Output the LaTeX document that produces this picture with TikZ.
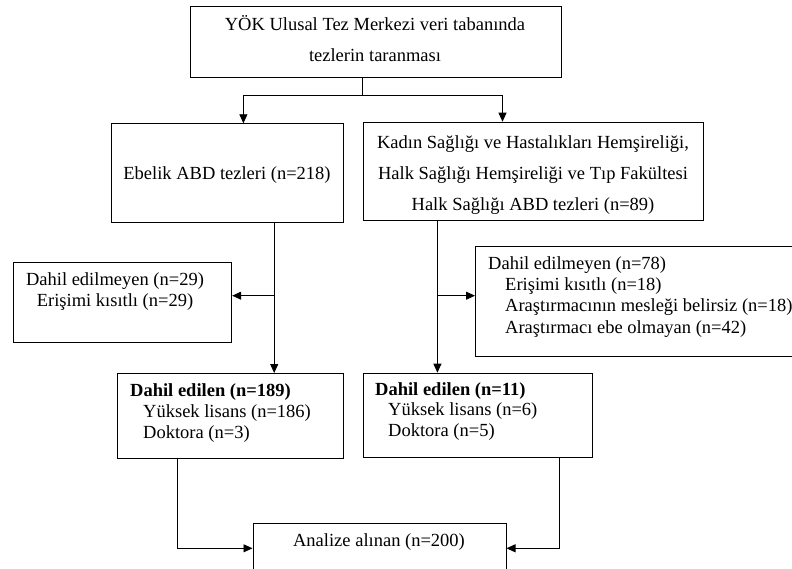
\documentclass[tikz,border=0pt]{standalone}
\usepackage{fontspec}
\setmainfont{Liberation Serif}
\usetikzlibrary{arrows.meta}
\begin{document}
\begin{tikzpicture}[x=1pt,y=-1pt,
  box/.style={draw, line width=0.9pt, inner sep=0pt, anchor=north west},
  txt/.style={inner sep=0pt, font=\fontsize{18.5}{22}\selectfont},
  conn/.style={line width=0.9pt},
  arr/.style={conn,-{Triangle[length=9pt,width=8pt]}}]
\useasboundingbox (0,0) rectangle (792,569);
% boxes
\node[box, minimum width=370.6pt, minimum height=71.3pt] (T) at (190,6) {};
\node[box, minimum width=232.4pt, minimum height=98.4pt] (E) at (111,123.3) {};
\node[box, minimum width=340.4pt, minimum height=98.3pt] (K) at (362.6,121.7) {};
\node[box, minimum width=218.7pt, minimum height=80.6pt] (X1) at (12.6,261.7) {};
\node[box, minimum width=330pt, minimum height=110pt] (X2) at (475,246) {};
\node[box, minimum width=226.4pt, minimum height=85pt] (D1) at (117,373) {};
\node[box, minimum width=229.8pt, minimum height=84.6pt] (D2) at (362.6,372.7) {};
\node[box, minimum width=253.1pt, minimum height=60pt] (A) at (252.5,523.3) {};
% texts
\node[txt, anchor=base] (t1) at (375,30.7) {YÖK Ulusal Tez Merkezi veri tabanında};
\node[txt, anchor=base] (t2) at (375,61.7) {tezlerin taranması};
\node[txt, anchor=base] (e1) at (227,180) {Ebelik ABD tezleri (n=218)};
\node[txt, anchor=base] (k1) at (533,148.7) {Kadın Sağlığı ve Hastalıkları Hemşireliği,};
\node[txt, anchor=base] (k2) at (533,180) {Halk Sağlığı Hemşireliği ve Tıp Fakültesi};
\node[txt, anchor=base] (k3) at (533,211) {Halk Sağlığı ABD tezleri (n=89)};
\node[txt, anchor=base] (x11) at (115,285) {Dahil edilmeyen (n=29)};
\node[txt, anchor=base] (x12) at (115,306) {Erişimi kısıtlı (n=29)};
\node[txt, anchor=base west] (x21) at (488,269.3) {Dahil edilmeyen (n=78)};
\node[txt, anchor=base west] (x22) at (505,290.7) {Erişimi kısıtlı (n=18)};
\node[txt, anchor=base west] (x23) at (505,311.7) {Araştırmacının mesleği belirsiz (n=18)};
\node[txt, anchor=base west] (x24) at (505,333) {Araştırmacı ebe olmayan (n=42)};
\node[txt, anchor=base west] (d11) at (130,396) {\bfseries Dahil edilen (n=189)};
\node[txt, anchor=base west] (d12) at (143,417.3) {Yüksek lisans (n=186)};
\node[txt, anchor=base west] (d13) at (143,438.3) {Doktora (n=3)};
\node[txt, anchor=base west] (d21) at (375,395.7) {\bfseries Dahil edilen (n=11)};
\node[txt, anchor=base west] (d22) at (388,415.7) {Yüksek lisans (n=6)};
\node[txt, anchor=base west] (d23) at (388,436.7) {Doktora (n=5)};
\node[txt, anchor=base] (a1) at (379,546.7) {Analize alınan (n=200)};
% connectors
\coordinate (split) at (362,95.7);
\draw[conn] (T.south -| split) -- (split);
\draw[arr] (split) -| (E.north -| 243.4,0);
\draw[arr] (split) -| (K.north -| 502.5,0);
\coordinate (lb) at (274.2,295.7);
\coordinate (rb) at (437.4,295.7);
\draw[arr] (E.south -| lb) -- (D1.north -| lb);
\draw[arr] (lb) -- (lb -| X1.east);
\draw[arr] (K.south -| rb) -- (D2.north -| rb);
\draw[arr] (rb) -- (rb -| X2.west);
\draw[arr] (D1.south -| 177.8,0) |- (A.west |- 0,548.3);
\draw[arr] (D2.south -| 559.6,0) |- (A.east |- 0,548.3);
\end{tikzpicture}
\end{document}
